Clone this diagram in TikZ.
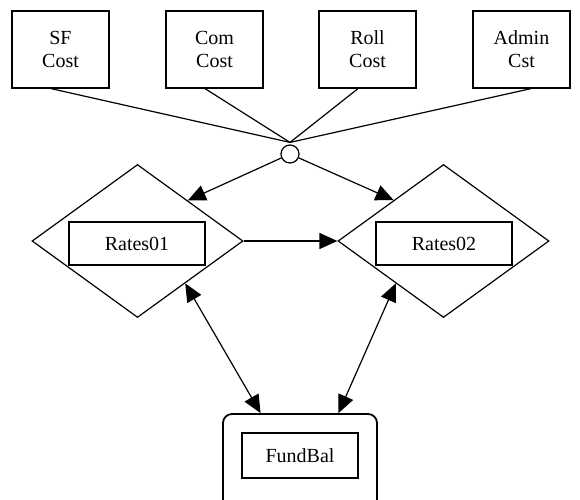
\documentclass[tikz,border=0pt]{standalone}
\usepackage{fontspec}
\setmainfont{Liberation Serif}
\usetikzlibrary{arrows.meta,shapes.geometric,calc}
\begin{document}
\begin{tikzpicture}[x=1pt,y=-1pt,
  line width=1.2pt,
  every node/.style={font=\fontsize{20}{23}\selectfont},
  costbox/.style={draw, rectangle, minimum width=97pt, minimum height=77pt, inner sep=0pt, align=center},
  dia/.style={draw, diamond, minimum width=211pt, minimum height=153pt, inner sep=0pt},
  inbox/.style={draw, rectangle, inner sep=0pt},
  arr/.style={-{Triangle[length=18pt,width=16pt]}},
  darr/.style={{Triangle[length=18pt,width=16pt]}-{Triangle[length=18pt,width=16pt]}},
  ]
\useasboundingbox (0,0) rectangle (580,499);
\clip (0,0) rectangle (580,499);
\node[costbox] (sf) at (60.5,49.5) {SF\\Cost};
\node[costbox] (com) at (214.5,49.5) {Com\\Cost};
\node[costbox] (roll) at (367.5,49.5) {Roll\\Cost};
\node[costbox] (adm) at (521.5,49.5) {Admin\\Cst};
\node[draw, circle, minimum size=18pt, inner sep=0pt] (junc) at (290,154) {};
\coordinate (hub) at ([yshift=2pt]junc.north);
\node[dia] (d1) at (137.5,241) {};
\node[dia] (d2) at (443.5,241) {};
\node[inbox, minimum width=136pt, minimum height=43pt] (r1) at (137,243.5) {Rates01};
\node[inbox, minimum width=136pt, minimum height=43pt] (r2) at (444,243.5) {Rates02};
\node[draw, rounded corners=9pt, line width=1.8pt, minimum width=154pt, minimum height=100pt] (fb) at (300,464) {};
\node[inbox, minimum width=116pt, minimum height=45pt] (fbi) at (300,455.5) {FundBal};
% connectors
\draw ([xshift=-9.5pt]sf.south) -- (hub);
\draw ([xshift=-9.5pt]com.south) -- (hub);
\draw ([xshift=-9.5pt]roll.south) -- (hub);
\draw ([xshift=9.5pt]adm.south) -- (hub);
\coordinate (t1) at ($(d1.north)!0.474!(d1.east)$);
\coordinate (t2) at ($(d2.north)!0.47!(d2.west)$);
\draw[arr] (junc) -- (t1);
\draw[arr] (junc) -- (t2);
\draw[arr] (d1.east) -- (d2.west);
\coordinate (b1) at ($(d1.east)!0.55!(d1.south)$);
\coordinate (b2) at ($(d2.west)!0.55!(d2.south)$);
\coordinate (f1) at ($(fb.north west)!0.247!(fb.north east)$);
\coordinate (f2) at ($(fb.north west)!0.747!(fb.north east)$);
\draw[darr] (b1) -- (f1);
\draw[darr] (b2) -- (f2);
\end{tikzpicture}
\end{document}
